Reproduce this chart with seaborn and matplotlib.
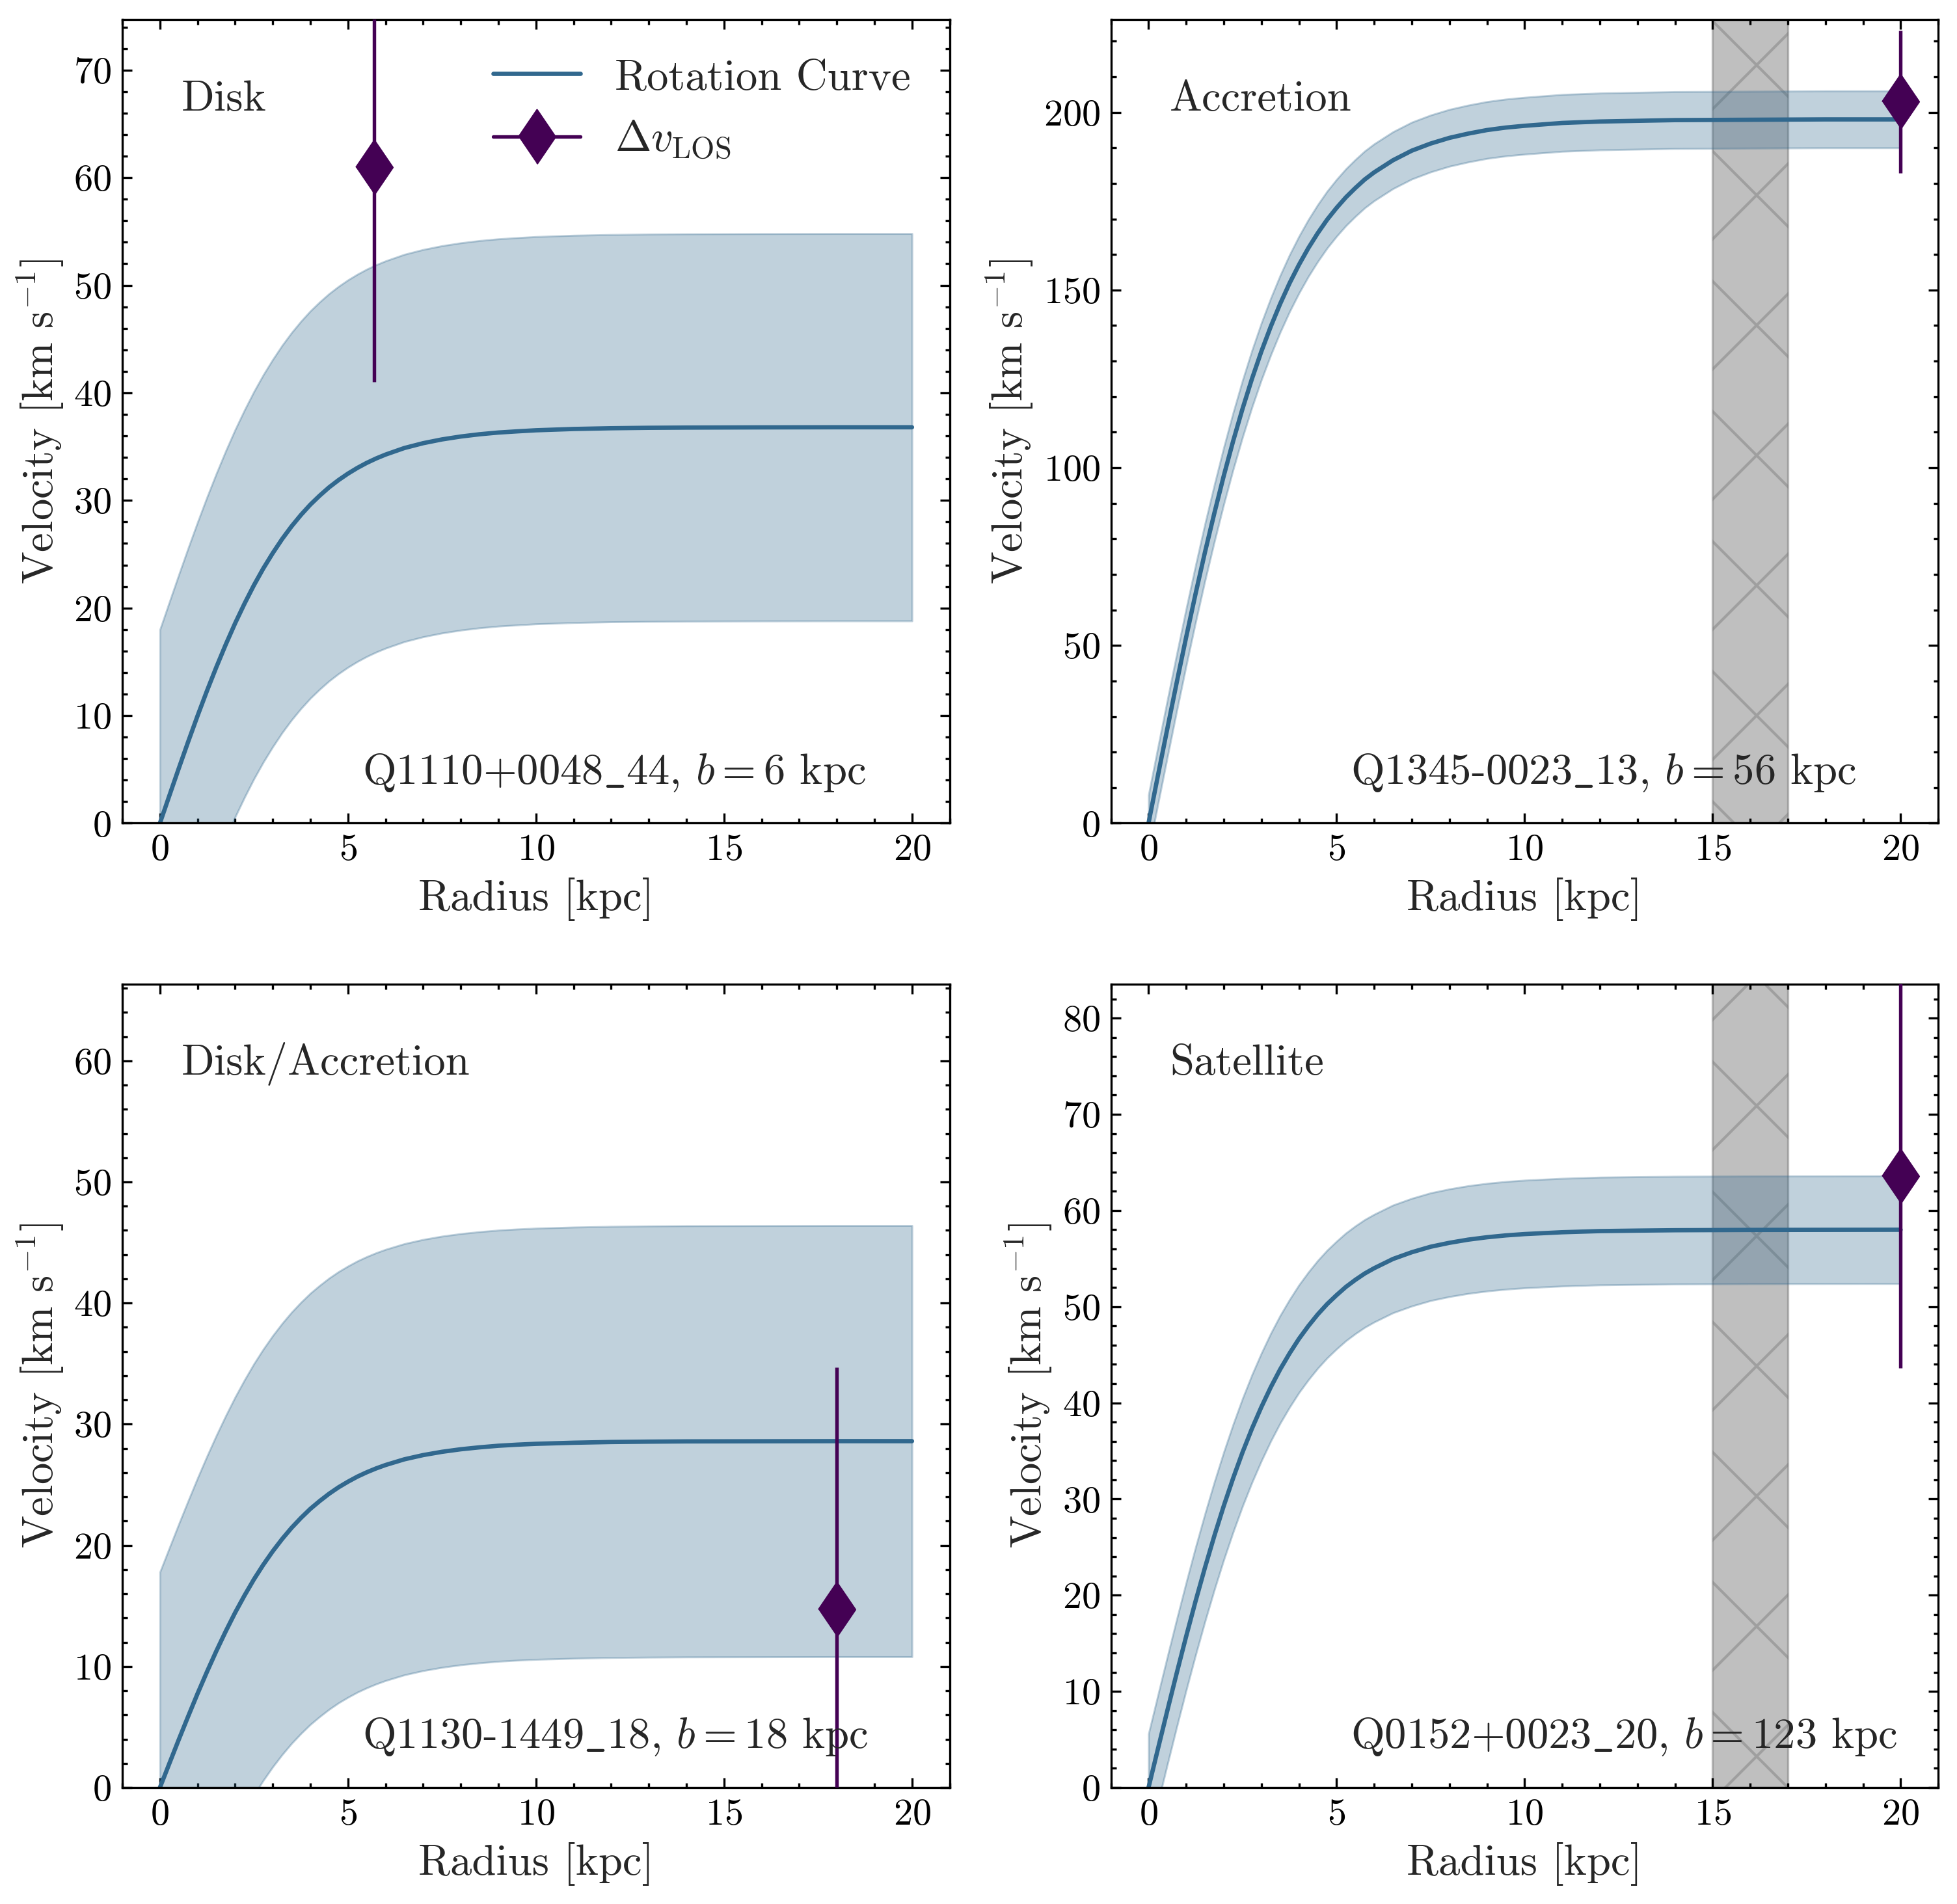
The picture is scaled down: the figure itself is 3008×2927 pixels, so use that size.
import numpy as np
import pandas as pd
import matplotlib
matplotlib.use("Agg")
import matplotlib.pyplot as plt
import seaborn as sns
from matplotlib.ticker import MultipleLocator
from matplotlib.lines import Line2D

# ---------------- data ----------------
radius = [0, 0.25, 0.5, 0.75, 1, 1.25, 1.5, 1.75, 2, 2.25, 2.5, 2.75, 3, 3.25, 3.5, 3.75,
          4, 4.25, 4.5, 4.75, 5, 5.25, 5.5, 5.75, 6, 6.5, 7, 7.5, 8, 8.5, 9, 9.5, 10,
          11, 12, 13, 14, 16, 18, 20]

disk_mid = [0, 2.55, 5.08, 7.56, 9.97, 12.29, 14.50, 16.60, 18.58, 20.41, 22.12, 23.68, 25.10, 26.41, 27.59, 28.65,
            29.61, 30.45, 31.22, 31.89, 32.49, 33.02, 33.49, 33.90, 34.26, 34.87, 35.32, 35.67, 35.94, 36.15, 36.31, 36.42, 36.52,
            36.64, 36.71, 36.75, 36.77, 36.79, 36.80, 36.80]
disk_hi = [18, 20.55, 23.08, 25.56, 27.97, 30.29, 32.50, 34.60, 36.58, 38.41, 40.12, 41.68, 43.10, 44.41, 45.59, 46.65,
           47.61, 48.45, 49.22, 49.89, 50.49, 51.02, 51.49, 51.90, 52.26, 52.87, 53.32, 53.67, 53.94, 54.15, 54.31, 54.42, 54.52,
           54.64, 54.71, 54.75, 54.77, 54.79, 54.80, 54.80]
disk_lo = [-18, -15.45, -12.92, -10.44, -8.03, -5.71, -3.50, -1.40, 0.58, 2.41, 4.12, 5.68, 7.10, 8.41, 9.59, 10.65,
           11.61, 12.45, 13.22, 13.89, 14.49, 15.02, 15.49, 15.90, 16.26, 16.87, 17.32, 17.67, 17.94, 18.15, 18.31, 18.42, 18.52,
           18.64, 18.71, 18.75, 18.77, 18.79, 18.80, 18.80]

accr_mid = [0, 13.4, 26.6, 39.6, 52.3, 64.5, 76.2, 87.2, 97.7, 107.5, 116.6, 125.0, 132.7, 139.7, 146.1, 151.9,
            157.1, 161.8, 166.0, 169.8, 173.1, 176.1, 178.7, 181.1, 183.1, 186.5, 189.2, 191.2, 192.8, 194.0, 195.0, 195.7, 196.2,
            197.0, 197.4, 197.6, 197.8, 197.9, 198.0, 198.0]
accr_hi = [8, 21.4, 34.6, 47.6, 60.3, 72.5, 84.2, 95.2, 105.7, 115.5, 124.6, 133.0, 140.7, 147.7, 154.1, 159.9,
           165.1, 169.8, 174.0, 177.8, 181.1, 184.1, 186.7, 189.1, 191.1, 194.5, 197.2, 199.2, 200.8, 202.0, 203.0, 203.7, 204.2,
           205.0, 205.4, 205.6, 205.8, 205.9, 206.0, 206.0]
accr_lo = [-8, 5.4, 18.6, 31.6, 44.3, 56.5, 68.2, 79.2, 89.7, 99.5, 108.6, 117.0, 124.7, 131.7, 138.1, 143.9,
           149.1, 153.8, 158.0, 161.8, 165.1, 168.1, 170.7, 173.1, 175.1, 178.5, 181.2, 183.2, 184.8, 186.0, 187.0, 187.7, 188.2,
           189.0, 189.4, 189.6, 189.8, 189.9, 190.0, 190.0]

dacc_mid = [0, 1.98, 3.95, 5.87, 7.75, 9.55, 11.27, 12.90, 14.44, 15.86, 17.19, 18.40, 19.51, 20.52, 21.44, 22.26,
            23.01, 23.66, 24.26, 24.79, 25.25, 25.67, 26.03, 26.35, 26.63, 27.10, 27.45, 27.72, 27.93, 28.09, 28.22, 28.31, 28.38,
            28.47, 28.53, 28.56, 28.58, 28.59, 28.60, 28.60]
dacc_hi = [17.8, 19.78, 21.75, 23.67, 25.55, 27.35, 29.07, 30.70, 32.24, 33.66, 34.99, 36.20, 37.31, 38.32, 39.24, 40.06,
           40.81, 41.46, 42.06, 42.59, 43.05, 43.47, 43.83, 44.15, 44.43, 44.90, 45.25, 45.52, 45.73, 45.89, 46.02, 46.11, 46.18,
           46.27, 46.33, 46.36, 46.38, 46.39, 46.40, 46.40]
dacc_lo = [-17.8, -15.82, -13.85, -11.93, -10.05, -8.25, -6.53, -4.90, -3.36, -1.94, -0.61, 0.60, 1.71, 2.72, 3.64, 4.46,
           5.21, 5.86, 6.46, 6.99, 7.45, 7.87, 8.23, 8.55, 8.83, 9.30, 9.65, 9.92, 10.13, 10.29, 10.42, 10.51, 10.58,
           10.67, 10.73, 10.76, 10.78, 10.79, 10.80, 10.80]

sat_mid = [0, 4.02, 8.00, 11.91, 15.71, 19.37, 22.86, 26.17, 29.28, 32.17, 34.86, 37.32, 39.56, 41.62, 43.48, 45.14,
           46.66, 47.99, 49.20, 50.27, 51.20, 52.06, 52.79, 53.45, 54.00, 54.96, 55.66, 56.23, 56.64, 56.97, 57.22, 57.41, 57.55,
           57.74, 57.86, 57.91, 57.95, 57.98, 57.99, 58.00]
sat_hi = [5.6, 9.62, 13.60, 17.51, 21.31, 24.97, 28.46, 31.77, 34.88, 37.77, 40.46, 42.92, 45.16, 47.22, 49.08, 50.74,
          52.26, 53.59, 54.80, 55.87, 56.80, 57.66, 58.39, 59.05, 59.60, 60.56, 61.26, 61.83, 62.24, 62.57, 62.82, 63.01, 63.15,
          63.34, 63.46, 63.51, 63.55, 63.58, 63.59, 63.60]
sat_lo = [-5.6, -1.58, 2.40, 6.31, 10.11, 13.77, 17.26, 20.57, 23.68, 26.57, 29.26, 31.72, 33.96, 36.02, 37.88, 39.54,
          41.06, 42.39, 43.60, 44.67, 45.60, 46.46, 47.19, 47.85, 48.40, 49.36, 50.06, 50.63, 51.04, 51.37, 51.62, 51.81, 51.95,
          52.14, 52.26, 52.31, 52.35, 52.38, 52.39, 52.40]

panel_mid = [disk_mid, accr_mid, dacc_mid, sat_mid]
panel_hi = [disk_hi, accr_hi, dacc_hi, sat_hi]
panel_lo = [disk_lo, accr_lo, dacc_lo, sat_lo]

panel_names = ["Disk", "Accretion", "Disk/Accretion", "Satellite"]
panel_ids = [r"Q1110+0048$\_$44, $b = 6$ kpc",
             r"Q1345-0023$\_$13, $b = 56$ kpc",
             r"Q1130-1449$\_$18, $b = 18$ kpc",
             r"Q0152+0023$\_$20, $b = 123$ kpc"]

los_r = [5.7, 20, 18, 20]
los_v = [61, 203, 14.7, 63.6]
los_err = [20, 20, 20, 20]

y_top = [74.7, 226.1, 66.35, 83.56]
y_major = [10, 50, 10, 10]
y_minor = [2, 10, 2, 2]
hatched = [False, True, False, True]
hatch_span = [15, 17]

# ---------------- style ----------------
sns.set_style("ticks")
plt.rcParams.update({
    "font.family": ["cmr10"],
    "mathtext.fontset": "cm",
    "axes.unicode_minus": False,
    "axes.formatter.use_mathtext": True,
    "axes.linewidth": 0.4,
    "xtick.direction": "in",
    "ytick.direction": "in",
    "xtick.top": True,
    "ytick.right": True,
    "xtick.major.size": 1.8,
    "ytick.major.size": 1.8,
    "xtick.minor.size": 0.9,
    "ytick.minor.size": 0.9,
    "xtick.major.width": 0.4,
    "ytick.major.width": 0.4,
    "xtick.minor.width": 0.4,
    "ytick.minor.width": 0.4,
    "xtick.major.pad": 2.0,
    "ytick.major.pad": 2.0,
    "xtick.labelsize": 7,
    "ytick.labelsize": 7,
    "axes.labelsize": 8,
    "hatch.linewidth": 0.5,
    "xtick.color": "black",
    "ytick.color": "black",
    "axes.edgecolor": "black",
})

line_color = "#31688e"
pt_color = "#440154"
diamond = [(-0.68, 0), (0, 1), (0.68, 0), (0, -1)]

fig, axes = plt.subplots(2, 2, figsize=(3008 / 600, 2927 / 600), dpi=600)
fig.subplots_adjust(left=0.0625, right=0.9904, top=0.98975, bottom=0.06115,
                    wspace=0.195, hspace=0.2)

for i, ax in enumerate(axes.flat):
    if hatched[i]:
        ax.axvspan(hatch_span[0], hatch_span[1], color="gray", alpha=0.5,
                   hatch="x", lw=0.4, zorder=0.5)
    ax.fill_between(radius, panel_lo[i], panel_hi[i], color=line_color,
                    alpha=0.3, lw=0.35, zorder=1)
    sns.lineplot(x=radius, y=panel_mid[i], ax=ax, color=line_color, lw=0.8,
                 zorder=2, legend=False)
    ax.errorbar([los_r[i]], [los_v[i]], yerr=[los_err[i]], fmt="none",
                ecolor=pt_color, elinewidth=0.65, capsize=0, zorder=3)
    sns.scatterplot(x=[los_r[i]], y=[los_v[i]], ax=ax, marker=diamond, s=10.0 ** 2,
                    color=pt_color, edgecolor=pt_color, linewidth=0.3, zorder=4,
                    legend=False)

    ax.set_xlim(-1, 21)
    ax.set_ylim(0, y_top[i])
    ax.xaxis.set_major_locator(MultipleLocator(5))
    ax.xaxis.set_minor_locator(MultipleLocator(1))
    ax.yaxis.set_major_locator(MultipleLocator(y_major[i]))
    ax.yaxis.set_minor_locator(MultipleLocator(y_minor[i]))
    ax.tick_params(which="both", direction="in", top=True, right=True)
    ax.set_xlabel("Radius [kpc]")
    ax.set_ylabel(r"Velocity [km s$^{-1}$]", labelpad=1.5)
    ax.xaxis.set_label_coords(0.5, -0.068)

    ax.text(0.071, 0.887, panel_names[i], transform=ax.transAxes,
            fontsize=8, ha="left", va="baseline")
    ax.text(0.29, 0.049, panel_ids[i], transform=ax.transAxes,
            fontsize=8, ha="left", va="baseline")

    if i == 0:
        handles = [Line2D([], [], color=line_color, lw=0.8),
                   Line2D([], [], color=pt_color, lw=0.65, marker=diamond,
                          ms=10.0, mew=0.3)]
        ax.legend(handles, ["Rotation Curve", r"$\Delta v_{\rm LOS}$"],
                  loc="upper right", frameon=False, fontsize=8)

fig.savefig("out.png", dpi=600)
